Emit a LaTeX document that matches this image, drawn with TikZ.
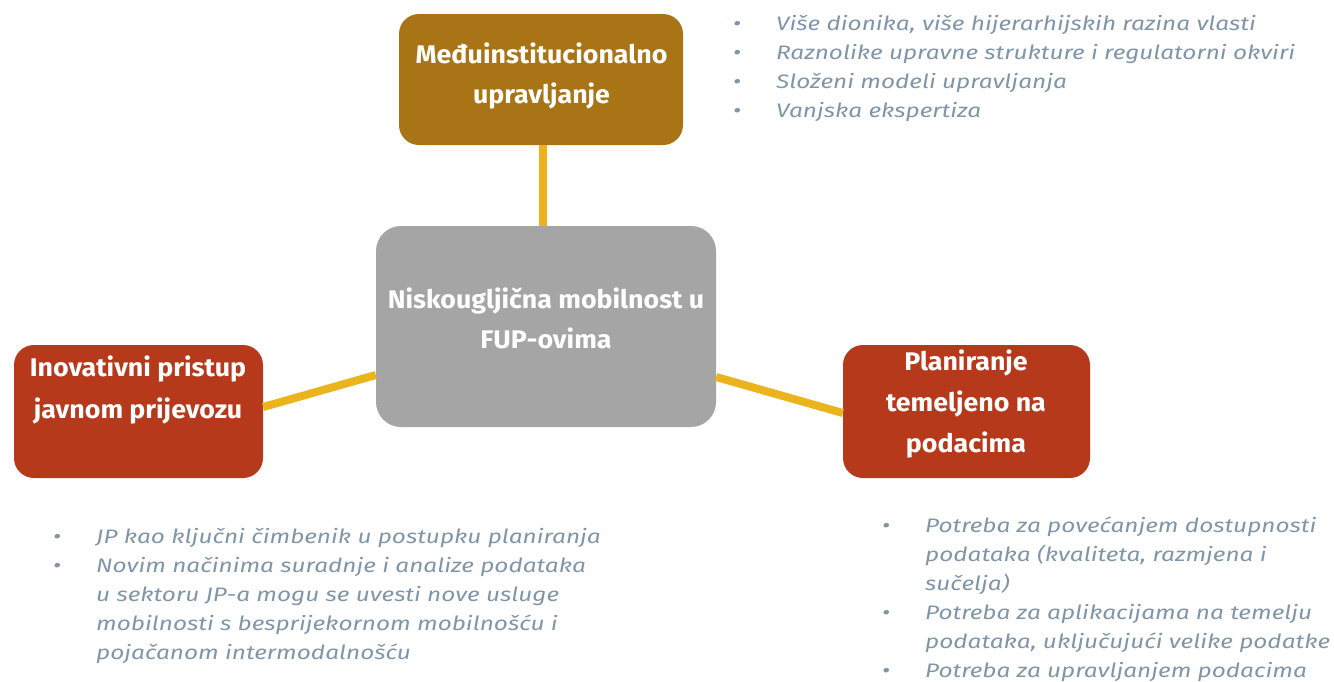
\documentclass[tikz,border=0pt]{standalone}
\usepackage{fontspec}
\setmainfont{Fira Sans}
\newfontfamily\listfont[FakeStretch=1.25]{Fira Sans}
\newfontfamily\boxfont[FakeStretch=1.05]{Fira Sans}
\usetikzlibrary{calc}
\definecolor{gold}{RGB}{168,116,21}
\definecolor{rust}{RGB}{181,57,26}
\definecolor{greybox}{RGB}{165,165,165}
\definecolor{link}{RGB}{235,180,28}
\definecolor{listc}{RGB}{128,150,168}
\newcommand{\bul}{\makebox[43pt][l]{{\fontsize{20}{20}\selectfont\raisebox{0pt}{•}}}}
\newcommand{\ind}{\hspace*{43pt}}
\tikzset{
  box/.style={draw=none, rounded corners=20pt, inner sep=0pt},
  boxtext/.style={text=white, inner sep=0pt, anchor=base, font=\boxfont\fontsize{25.5}{40}\selectfont\bfseries},
  listtext/.style={text=listc, inner sep=0pt, anchor=base west, font=\listfont\fontsize{19.5}{29}\selectfont\itshape},
  conn/.style={draw=link, line width=8pt}
}
\begin{document}
\begin{tikzpicture}[x=1pt,y=-1pt]
\useasboundingbox (0,0) rectangle (1334,681);
% boxes
\node[box, fill=gold, minimum width=284pt, minimum height=131pt] (top) at (541,79.5) {};
\node[box, fill=greybox, rounded corners=25pt, minimum width=340pt, minimum height=201pt] (center) at (546,326.5) {};
\node[box, fill=rust, minimum width=249pt, minimum height=133pt] (left) at (138.5,411.5) {};
\node[box, fill=rust, minimum width=247pt, minimum height=133pt] (right) at (966.5,411.5) {};
% connectors
\draw[conn] ([xshift=2pt]top.south) -- ([xshift=-3pt]center.north);
\draw[conn] ([yshift=4.5pt]left.east) -- ([yshift=-48.5pt]center.west);
\draw[conn] ([yshift=-50.5pt]center.east) -- ([yshift=-1.5pt]right.west);
% box texts
\node[boxtext] (toptxt) at (541.5,63) {\begin{tabular}[t]{@{}c@{}}Međuinstitucionalno\\upravljanje\end{tabular}};
\node[boxtext] (centertxt) at (546,308) {\begin{tabular}[t]{@{}c@{}}Niskougljična mobilnost u\\FUP-ovima\end{tabular}};
\node[boxtext, font=\boxfont\fontsize{25.5}{42}\selectfont\bfseries] (lefttxt) at (138,376) {\begin{tabular}[t]{@{}c@{}}Inovativni pristup\\javnom prijevozu\end{tabular}};
\node[boxtext, font=\boxfont\fontsize{25.5}{41}\selectfont\bfseries] (righttxt) at (966,370) {\begin{tabular}[t]{@{}c@{}}Planiranje\\temeljeno na\\podacima\end{tabular}};
% lists
\node[listtext] (toplist) at (733,30) {\begin{tabular}[t]{@{}l@{}}
\bul Više dionika, više hijerarhijskih razina vlasti\\
\bul Raznolike upravne strukture i regulatorni okviri\\
\bul Složeni modeli upravljanja\\
\bul Vanjska ekspertiza
\end{tabular}};
\node[listtext] (leftlist) at (53,543) {\begin{tabular}[t]{@{}l@{}}
\bul JP kao ključni čimbenik u postupku planiranja\\
\bul Novim načinima suradnje i analize podataka\\
\ind u sektoru JP-a mogu se uvesti nove usluge\\
\ind mobilnosti s besprijekornom mobilnošću i\\
\ind pojačanom intermodalnošću
\end{tabular}};
\node[listtext] (rightlist) at (882,532) {\begin{tabular}[t]{@{}l@{}}
\bul Potreba za povećanjem dostupnosti\\
\ind podataka (kvaliteta, razmjena i\\
\ind sučelja)\\
\bul Potreba za aplikacijama na temelju\\
\ind podataka, uključujući velike podatke\\
\bul Potreba za upravljanjem podacima
\end{tabular}};
\end{tikzpicture}
\end{document}
